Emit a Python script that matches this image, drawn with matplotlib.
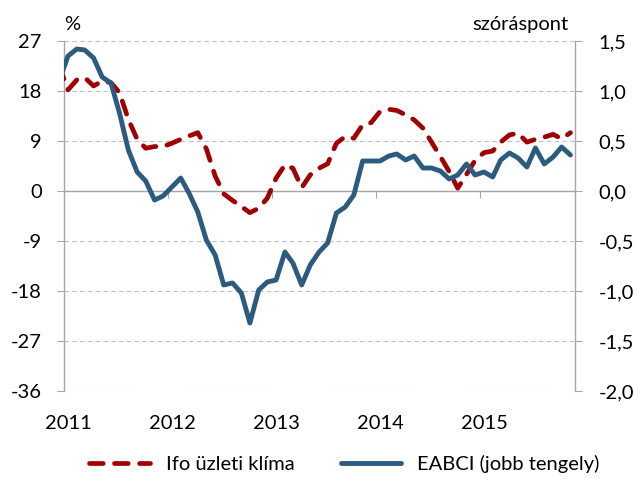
import pandas as pd
import matplotlib.pyplot as plt
import matplotlib.dates as mdates

plt.rcParams['font.family'] = ['Lato', 'DejaVu Sans']
plt.rcParams['font.size'] = 14.5
plt.rcParams['axes.unicode_minus'] = False

# --------------------------------------------------------------------------------
# Data (monthly, mid-month, Dec 2010 - Nov 2015)
# --------------------------------------------------------------------------------

months = pd.date_range("2010-12-01", periods=60, freq="MS") + pd.Timedelta(days=14)

ifo = [22.5, 18.2, 20.0, 20.4, 18.9, 19.8, 19.5, 17.7, 12.9, 9.3,
       7.7, 8.0, 8.0, 8.6, 9.3, 9.9, 10.5, 7.6, 2.7, -0.5,
       -1.7, -2.8, -3.9, -3.1, -1.3, 2.3, 4.7, 4.1, 0.6, 2.9,
       4.1, 4.9, 8.6, 9.8, 9.5, 11.9, 12.3, 14.3, 14.7, 14.5,
       13.7, 12.8, 11.3, 8.8, 6.2, 3.5, 0.5, 3.0, 5.5, 6.9,
       7.2, 8.8, 10.1, 10.4, 8.8, 9.3, 9.7, 10.2, 9.4, 10.5]

eabci = [1.10, 1.35, 1.42, 1.41, 1.33, 1.14, 1.08, 0.78, 0.41, 0.19,
         0.10, -0.09, -0.05, 0.04, 0.13, -0.02, -0.21, -0.49, -0.64, -0.94,
         -0.92, -1.02, -1.32, -0.99, -0.91, -0.89, -0.61, -0.72, -0.94, -0.74,
         -0.61, -0.52, -0.22, -0.16, -0.04, 0.30, 0.30, 0.30, 0.35, 0.37,
         0.31, 0.35, 0.23, 0.23, 0.20, 0.12, 0.16, 0.27, 0.16, 0.19,
         0.14, 0.31, 0.38, 0.33, 0.24, 0.43, 0.27, 0.34, 0.44, 0.36]

years = ["2011", "2012", "2013", "2014", "2015"]
left_ticks = [-36, -27, -18, -9, 0, 9, 18, 27]
right_ticks = [-2.0, -1.5, -1.0, -0.5, 0.0, 0.5, 1.0, 1.5]

RED = "#A00000"
BLUE = "#2B5C7F"
GRID = "#BFBFBF"
AXIS = "#A6A6A6"

# --------------------------------------------------------------------------------
# Plot
# --------------------------------------------------------------------------------

fig = plt.figure(figsize=(6.38, 4.79), dpi=100)
ax = fig.add_axes([64 / 638, 88 / 479, 511 / 638, 350 / 479])
ax2 = ax.twinx()

ax.plot(months, ifo, color=RED, lw=3.4, dashes=(2.9, 2.4), dash_capstyle='round',
        zorder=3, label="Ifo üzleti klíma")
ax2.plot(months, eabci, color=BLUE, lw=3.5, solid_capstyle='round', solid_joinstyle='round',
         label="EABCI (jobb tengely)")

ax.set_xlim(pd.Timestamp("2011-01-01"), pd.Timestamp("2015-12-01"))
ax.set_ylim(-36, 27)
ax2.set_ylim(-2.0, 1.5)

ax.set_yticks(left_ticks, labels=[str(t) for t in left_ticks])
ax2.set_yticks(right_ticks, labels=[f"{t:.1f}".replace(".", ",") for t in right_ticks])

ax.grid(axis='y', color=GRID, lw=0.8, ls=(0, (4, 3)))
ax.set_axisbelow(True)

ax.spines['bottom'].set_position(('data', 0))
ax.spines[['top', 'right']].set_visible(False)
ax2.spines[['top', 'left', 'bottom']].set_visible(False)
for sp in [ax.spines['left'], ax.spines['bottom'], ax2.spines['right']]:
    sp.set_color(AXIS)
    sp.set_linewidth(1)

# year tick marks on the zero line
ax.set_xticks(pd.date_range("2012-01-01", periods=4, freq="YS"))
ax.tick_params(axis='x', direction='out', length=5, color=AXIS, labelbottom=False)
ax.tick_params(axis='y', direction='out', length=5, color=AXIS, pad=11)
ax2.tick_params(axis='y', direction='out', length=5, color=AXIS, pad=12)

# year labels below the plot
label_pos = mdates.date2num(pd.date_range("2011-01-01", periods=5, freq="YS") + pd.Timedelta(days=16))
sec = ax.secondary_xaxis('bottom')
sec.set_xticks(label_pos, labels=years)
sec.tick_params(length=0, pad=17)
sec.spines['bottom'].set_visible(False)

fig.text(72.5 / 638, 1 - 30 / 479, "%", ha='center', va='baseline')
fig.text(568 / 638, 1 - 30 / 479, "szóráspont", ha='right', va='baseline')

h1, l1 = ax.get_legend_handles_labels()
h2, l2 = ax2.get_legend_handles_labels()
fig.legend(h1 + h2, l1 + l2, loc='center', bbox_to_anchor=(0.54, 1 - 464 / 479), ncol=2,
           frameon=False, handlelength=3.0, handletextpad=0.8, columnspacing=2.3)

fig.savefig("out.png", dpi=100)
